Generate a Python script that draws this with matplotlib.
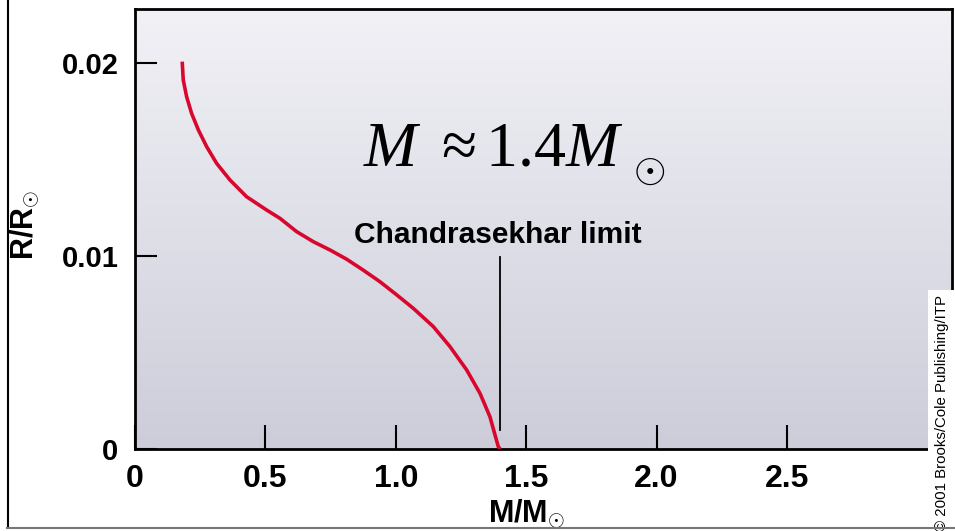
import matplotlib
matplotlib.use("Agg")
import matplotlib.pyplot as plt
import numpy as np
from matplotlib.lines import Line2D
from matplotlib.patches import Rectangle
from matplotlib.colors import LinearSegmentedColormap

# mass-radius relation (M/Msun, R/Rsun)
mass = [0.181, 0.185, 0.198, 0.217, 0.243, 0.275, 0.313, 0.364, 0.428, 0.505,
        0.556, 0.620, 0.684, 0.748, 0.812, 0.875, 0.939, 1.004, 1.067, 1.144,
        1.208, 1.272, 1.323, 1.361, 1.393, 1.400]
radius = [0.02007, 0.01912, 0.01825, 0.01739, 0.01653, 0.01566, 0.01480, 0.01394,
          0.01307, 0.01238, 0.01195, 0.01126, 0.01074, 0.01031, 0.00983, 0.00927,
          0.00867, 0.00798, 0.00729, 0.00634, 0.00530, 0.00409, 0.00288, 0.00167,
          0.00012, 0.0]

x_ticks = [0, 0.5, 1.0, 1.5, 2.0, 2.5]
x_tick_labels = ["0", "0.5", "1.0", "1.5", "2.0", "2.5"]
y_ticks = [0, 0.01, 0.02]
y_tick_labels = ["0", "0.01", "0.02"]

chandra_mass = 1.4
chandra_span = [0.00098, 0.00995]

plt.rcParams['mathtext.fontset'] = 'custom'
plt.rcParams['mathtext.rm'] = 'Liberation Serif'
plt.rcParams['mathtext.it'] = 'Liberation Serif:italic'
plt.rcParams['mathtext.bf'] = 'Liberation Sans:bold'

fig = plt.figure(figsize=(9.55, 5.31), dpi=100)
fig.patch.set_facecolor('white')
ax = fig.add_axes([135 / 955, 1 - 449 / 531, (952 - 135) / 955, (449 - 9) / 531])

# vertical gradient background of the panel
grad = LinearSegmentedColormap.from_list('panel', ['#cdcdda', '#f1f1f6'])
ax.imshow(np.linspace(0, 1, 256).reshape(-1, 1), cmap=grad, origin='lower',
          extent=[0, 1, 0, 1], transform=ax.transAxes, aspect='auto', zorder=0)

ax.plot(mass, radius, color='#d9072e', lw=2.6, solid_capstyle='butt',
        solid_joinstyle='round', zorder=3)
ax.plot([chandra_mass, chandra_mass], chandra_span, color='black', lw=1.3, zorder=3)

ax.set_xlim(0, (952 - 135) / 260.8)
ax.set_ylim(0, (449 - 9) / 19300)

ax.set_xticks(x_ticks)
ax.set_xticklabels(x_tick_labels, fontsize=23, fontweight='bold',
                   family=['Liberation Sans Narrow', 'Liberation Sans'])
ax.set_yticks(y_ticks)
ax.set_yticklabels(y_tick_labels, fontsize=21, fontweight='bold', family='Liberation Sans')
ax.tick_params(axis='x', direction='in', length=17, width=1.5, pad=11)
ax.tick_params(axis='y', direction='in', length=16, width=1.5, pad=12)
for s in ax.spines.values():
    s.set_linewidth(2)

ax.text(1.39, (449 - 243) / 19300, "Chandrasekhar limit", ha='center', va='baseline',
        fontsize=21.5, fontweight='bold', family='Liberation Sans', zorder=4)

# M ~ 1.4 M_sun, with the sun symbol set low as in the original
ax.text((363 - 135) / 260.8, (449 - 165) / 19300, r"$M\ \approx 1.4M$", ha='left',
        va='baseline', fontsize=46, zorder=4)
ax.text((649 - 135) / 260.8, (449 - 170) / 19300, r"$\odot$", ha='center',
        va='center', fontsize=30, zorder=4)

fig.text(527 / 955, 1 - 514 / 531, r"$\mathbf{M/M}_{\odot}$", ha='center', va='center',
         fontsize=22)
fig.text(25 / 955, 1 - 225 / 531, r"$\mathbf{R/R}_{\odot}$", ha='center', va='center',
         fontsize=22, rotation=90)

# copyright strip over the lower right corner
fig.patches.append(Rectangle((928 / 955, 0), 27 / 955, 1 - 290 / 531,
                             transform=fig.transFigure, facecolor='white',
                             edgecolor='none', zorder=5))
fig.text(942 / 955, 0.0, "\u00a9 2001 Brooks/Cole Publishing/ITP", rotation=90,
         ha='center', va='bottom', fontsize=10.8, family='Liberation Sans', zorder=6)

# outer frame remnants (left and bottom)
fig.lines.append(Line2D([7.5 / 955, 7.5 / 955], [3 / 531, 1], transform=fig.transFigure,
                        color='black', lw=1.5, zorder=7))
fig.lines.append(Line2D([7 / 955, 1], [3 / 531, 3 / 531], transform=fig.transFigure,
                        color='#777777', lw=1.5, zorder=7))

fig.savefig("out.png", dpi=100)
